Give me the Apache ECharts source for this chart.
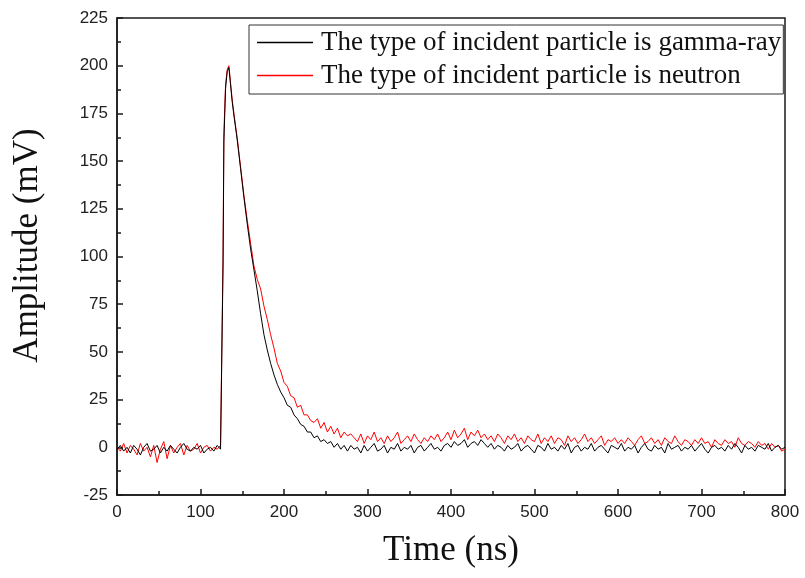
<!DOCTYPE html>
<html>
<head>
<meta charset="utf-8">
<script src="https://cdn.jsdelivr.net/npm/echarts@6/dist/echarts.min.js"></script>
<style>html,body{margin:0;padding:0;background:#fff}#c{width:805px;height:578px}</style>
</head>
<body>
<div id="c"></div>
<script>
// Sample times (ns): 4 ns grid, finer around the rising edge
const timesBefore = []; for (let t = 0; t <= 124; t += 4) timesBefore.push(t);
const timesEdge = [126, 127, 128, 130, 132, 134, 136, 138];
const timesAfter = []; for (let t = 140; t <= 800; t += 4) timesAfter.push(t);
const timeNs = timesBefore.concat(timesEdge, timesAfter);

const seriesNames = ['The type of incident particle is gamma-ray', 'The type of incident particle is neutron'];

// Amplitude (mV), gamma-ray (black)
const gammaAmp = [
  -1, 1, -2, 0, -3, 1, -1, -4, 0, 2, -2, -1, 1, -3, 0, -2, 1, -1, -3, 0, 2, -1, -2, 0, -1, 1, -3, -1, 0, -2, 1, -1,
  0, 95, 160, 188, 197, 199, 190, 181,
  174, 161, 146, 131, 117, 104, 93, 82, 70, 59, 51, 44, 38, 33, 29, 26, 22, 21, 17, 15,
  12, 11, 8, 8, 5, 6, 3, 4, 2, 3, 0, 2, -1, 1, -2, 1,
  -1, 0, -3, 1, -2, 0, 2, -2, -1, 1,
  -3, 0, -1, 2, -2, 0, -1, 1, -3, 0,
  1, -2, 0, 2, -1, 0, -2, 1, 2, 0,
  3, 1, 2, 4, 0, 2, 3, 1, 4, 2,
  0, 2, -1, 1, 0, -2, 1, -1, 0, 2,
  -2, 0, 1, -1, -3, 1, 0, -2, 2, -1,
  0, -2, 1, -1, 2, -3, 0, 1, -2, 0,
  -1, 2, -2, 0, 1, -1, -3, 1, 0, -1,
  2, -2, 0, -1, 1, -3, 0, 2, -1, -2,
  1, -1, 0, -3, 2, -1, 0, 1, -2, 0,
  -1, 1, -2, 0, 2, -1, -3, 0, 1, -1,
  0, -2, 1, -1, 2, 0, -3, 1, -1, 0,
  -2, 1, 0, -1, 2, -2, 0, 1, -1, 0
];

// Amplitude (mV), neutron (red)
const neutronAmp = [
  0, -2, 2, -3, 1, -1, -4, 2, -2, 0, -5, 1, -8, -1, 3, -6, 1, -3, 0, 2, -4, 1, -2, -1, 2, -3, 0, 1, -2, 0, -1, 1,
  1, 100, 165, 190, 198, 200, 191, 182,
  175, 162, 147, 132, 119, 107, 95, 88, 83, 74, 67, 59, 52, 44, 40, 34, 32, 27, 26, 21,
  22, 17, 17, 14, 13, 15, 10, 13, 8, 11, 7, 10, 5, 8, 6, 7,
  5, 3, 7, 2, 6, 4, 8, 3, 5, 2,
  6, 3, 5, 8, 2, 4, 6, 3, 7, 4,
  2, 5, 3, 6, 4, 7, 3, 5, 8, 4,
  9, 5, 7, 10, 4, 8, 6, 9, 5, 7,
  4, 6, 3, 7, 5, 2, 6, 4, 7, 3,
  5, 2, 6, 4, 3, 7, 2, 5, 3, 6,
  2, 5, 4, 1, 6, 3, 5, 2, 4, 7,
  3, 5, 2, 4, 6, 1, 4, 3, 5, 2,
  4, 2, 5, 3, 1, 4, 6, 2, 3, 5,
  2, 4, 1, 5, 3, 2, 6, 3, 1, 4,
  3, 1, 4, 2, 5, 2, 3, 0, 4, 2,
  1, 4, 2, 3, 0, 5, 2, 1, 3, 2,
  0, 3, 1, 2, -1, 2, 0, 1, -2, -1
];

const pair = (vals) => timeNs.map((t, i) => [t, vals[i]]);

const chart = echarts.init(document.getElementById('c'), null, {renderer: 'canvas'});
const axisColor = '#1a1a1a';
chart.setOption({
  animation: false,
  backgroundColor: '#fff',
  grid: {left: 117, right: 20, top: 18, bottom: 83, show: true, borderColor: axisColor, borderWidth: 1.5},
  legend: {
    left: 249, top: 25, orient: 'vertical',
    borderColor: '#333', borderWidth: 1,
    padding: [4, 2, 5, 8], itemGap: 6,
    icon: 'rect', itemWidth: 56, itemHeight: 1.5,
    textStyle: {fontFamily: 'Liberation Serif', fontSize: 27, color: '#111', padding: [0, 0, 0, 3]},
    data: seriesNames
  },
  xAxis: {
    type: 'value', min: 0, max: 800, interval: 100,
    name: 'Time (ns)', nameLocation: 'middle', nameGap: 38,
    nameTextStyle: {fontFamily: 'Liberation Serif', fontSize: 35, color: '#111'},
    axisLine: {onZero: false, lineStyle: {color: axisColor, width: 1.5}},
    axisTick: {inside: true, length: 6, lineStyle: {color: axisColor, width: 1.5}},
    minorTick: {show: true, splitNumber: 2, length: 4, lineStyle: {color: axisColor, width: 1.5}},
    axisLabel: {fontFamily: 'Liberation Sans', fontSize: 17, color: '#222', margin: 9},
    splitLine: {show: false}
  },
  yAxis: {
    type: 'value', min: -25, max: 225, interval: 25,
    name: 'Amplitude (mV)', nameLocation: 'middle', nameGap: 72,
    nameTextStyle: {fontFamily: 'Liberation Serif', fontSize: 35, color: '#111', padding: [0, 0, 0, 22]},
    axisLine: {onZero: false, lineStyle: {color: axisColor, width: 1.5}},
    axisTick: {inside: true, length: 6, lineStyle: {color: axisColor, width: 1.5}},
    minorTick: {show: true, splitNumber: 2, length: 4, lineStyle: {color: axisColor, width: 1.5}},
    axisLabel: {fontFamily: 'Liberation Sans', fontSize: 17, color: '#222', margin: 9},
    splitLine: {show: false}
  },
  series: [
    {name: seriesNames[0], type: 'line', data: pair(gammaAmp), symbol: 'none', color: '#000', lineStyle: {width: 1, color: '#000'}, z: 3},
    {name: seriesNames[1], type: 'line', data: pair(neutronAmp), symbol: 'none', color: '#f00', lineStyle: {width: 1, color: '#f00'}, z: 2}
  ]
});
</script>
</body>
</html>
